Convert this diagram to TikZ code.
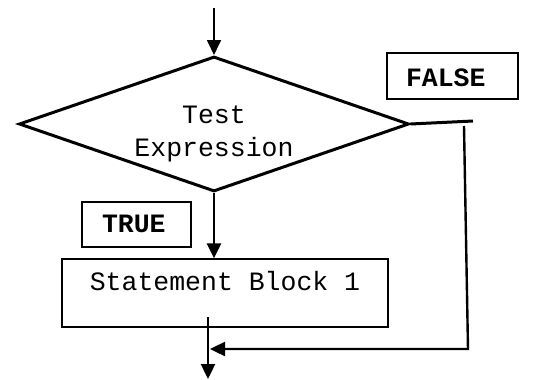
\documentclass[tikz,border=0pt]{standalone}
\usepackage{fontspec}
\setmonofont{Liberation Mono}
\usepackage{tikz}
\usetikzlibrary{arrows.meta,shapes.geometric}

\begin{document}
\begin{tikzpicture}[
  x=1pt, y=-1pt,
  txt/.style={font=\ttfamily\fontsize{26.5}{33}\selectfont},
  decision/.style={draw, diamond, line width=3pt, minimum width=390pt, minimum height=135pt, inner sep=0pt},
  block/.style={draw, txt, line width=1.3pt, minimum width=326pt, minimum height=68pt, text height=18pt, text depth=23pt, inner sep=0pt},
  tag/.style={draw, font=\ttfamily\bfseries\fontsize{26.5}{33}\selectfont, line width=1.3pt, align=left, inner ysep=0pt},
  arr/.style={-{Triangle[length=15pt,width=14pt]}, line width=2.4pt},
  wire/.style={line width=3pt}
]
  \useasboundingbox (0,0) rectangle (541,380);

  \coordinate (start) at (214,8);
  \node[decision, label={[txt, align=center, yshift=-10pt]center:Test\\Expression}] (test) at (214,124) {};
  \node[block] (stmt) at (225,293) {Statement Block 1};
  \node[tag, text width=93pt, inner xsep=19pt, minimum height=46pt, text height=22pt, text depth=1pt] (false) at (452.5,76) {FALSE};
  \node[tag, text width=69pt, inner xsep=20pt, minimum height=45pt, text height=18pt, text depth=3pt] (true) at (136.5,224.5) {TRUE};

  \coordinate (stub) at (473,121);
  \coordinate (drop) at (464,126);
  \coordinate (corner) at (468,349);
  \coordinate (join) at (210,349);
  \coordinate (out) at (208,317);
  \coordinate (end) at (208,379);

  \draw[arr, line width=1.7pt] (start) -- (test.north);
  \draw[arr] (test.south) -- (test.south |- stmt.north);
  \draw[wire] (test.east) -- (stub);
  \draw[arr] (drop) -- (corner) -- (join);
  \draw[arr] (out) -- (end);
\end{tikzpicture}
\end{document}
